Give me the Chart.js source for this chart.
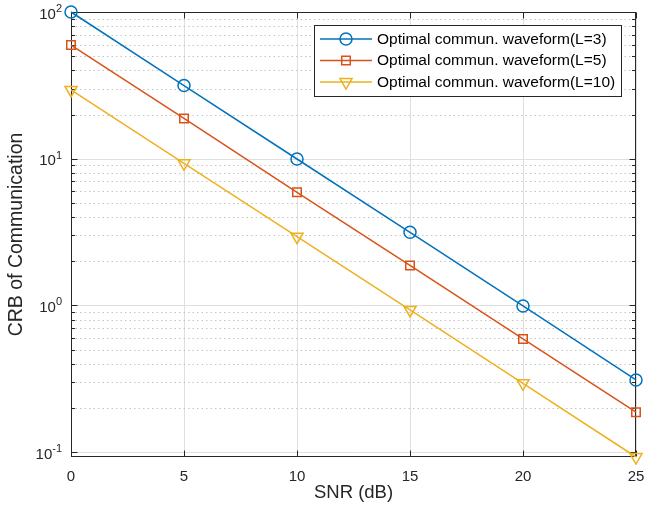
<!DOCTYPE html>
<html>
<head>
<meta charset="utf-8">
<title>CRB of Communication vs SNR</title>
<script src="https://cdn.jsdelivr.net/npm/chart.js"></script>
<style>
    html, body { margin: 0; padding: 0; background: #fff; }
    #wrap { width: 646px; height: 515px; }
</style>
</head>
<body>
<div id="wrap"><canvas id="myChart" width="646" height="515"></canvas></div>
<script>
// =============================================
//
// CRB vs SNR, log y axis, MATLAB-like axes
//
// =============================================

const snr = [0, 5, 10, 15, 20, 25];
const crbL3 = [100, 31.5, 9.95, 3.15, 0.99, 0.31];
const crbL5 = [59.5, 18.8, 5.9, 1.87, 0.59, 0.187];
const crbL10 = [29.4, 9.3, 2.94, 0.93, 0.294, 0.0925];

const seriesNames = [
    "Optimal commun. waveform(L=3)",
    "Optimal commun. waveform(L=5)",
    "Optimal commun. waveform(L=10)",
];
const seriesColors = ["#0072BD", "#D95319", "#EDB120"];
const seriesMarkers = ["circle", "rect", "triangle"];
const markerSizes = [6, 6, 7];

const xTicks = [0, 5, 10, 15, 20, 25];
const yExponents = [-1, 0, 1, 2];

const xTitle = "SNR (dB)";
const yTitle = "CRB of Communication";

const FONT = '"Liberation Sans", Arial, Helvetica, sans-serif';
const AXIS_COLOR = "#262626";

const allValues = [...crbL3, ...crbL5, ...crbL10];
const yMin = Math.min(...allValues);
const yMax = Math.max(...allValues);

function toPoints(values) {
    return values.map((v, i) => ({ x: snr[i], y: v }));
}

function makeDataset(values, i) {
    return {
        label: seriesNames[i],
        data: toPoints(values),
        borderColor: seriesColors[i],
        backgroundColor: "rgba(0,0,0,0)",
        borderWidth: 1.5,
        pointStyle: seriesMarkers[i],
        pointRadius: markerSizes[i],
        pointRotation: seriesMarkers[i] === "triangle" ? 180 : 0,
        pointBorderWidth: 1.5,
        pointBorderColor: seriesColors[i],
        pointBackgroundColor: "rgba(0,0,0,0)",
        tension: 0,
        clip: false,
    };
}

// small marker painter for the legend
function drawMarker(ctx, style, r, cx, cy) {
    ctx.beginPath();
    if (style === "circle") {
        ctx.arc(cx, cy, r, 0, Math.PI * 2);
    } else if (style === "rect") {
        const s = r * Math.SQRT1_2;
        ctx.rect(cx - s, cy - s, 2 * s, 2 * s);
    } else {
        // downward triangle
        for (let k = 0; k < 3; k++) {
            const a = Math.PI + (k * 2 * Math.PI) / 3;
            const px = cx + Math.sin(a) * r;
            const py = cy - Math.cos(a) * r;
            k === 0 ? ctx.moveTo(px, py) : ctx.lineTo(px, py);
        }
        ctx.closePath();
    }
    ctx.stroke();
}

const matlabAxes = {
    id: "matlabAxes",
    beforeDatasetsDraw(chart) {
        const { ctx, chartArea: a, scales } = chart;
        const x = scales.x, y = scales.y;
        ctx.save();

        // major grid
        ctx.strokeStyle = "#dfdfdf";
        ctx.lineWidth = 1;
        ctx.beginPath();
        xTicks.forEach((v) => {
            const px = Math.round(x.getPixelForValue(v)) + 0.5;
            ctx.moveTo(px, a.top);
            ctx.lineTo(px, a.bottom);
        });
        yExponents.forEach((e) => {
            const v = Math.pow(10, e);
            if (v < yMin || v > yMax) return;
            const py = Math.round(y.getPixelForValue(v)) + 0.5;
            ctx.moveTo(a.left, py);
            ctx.lineTo(a.right, py);
        });
        ctx.stroke();

        // minor grid (dotted)
        const minors = [];
        yExponents.forEach((e) => {
            for (let k = 2; k <= 9; k++) {
                const v = k * Math.pow(10, e);
                if (v >= yMin && v <= yMax) minors.push(v);
            }
        });
        ctx.strokeStyle = "#c4c4c4";
        ctx.setLineDash([1.5, 3]);
        ctx.beginPath();
        minors.forEach((v) => {
            const py = Math.round(y.getPixelForValue(v)) + 0.5;
            ctx.moveTo(a.left, py);
            ctx.lineTo(a.right, py);
        });
        ctx.stroke();
        ctx.setLineDash([]);

        // box
        ctx.strokeStyle = AXIS_COLOR;
        ctx.lineWidth = 1;
        const L = Math.round(a.left) + 0.5, R = Math.round(a.right) - 0.5;
        const T = Math.round(a.top) + 0.5, B = Math.round(a.bottom) - 0.5;
        ctx.strokeRect(L, T, R - L, B - T);

        // inward ticks
        ctx.beginPath();
        xTicks.forEach((v) => {
            const px = Math.round(x.getPixelForValue(v)) + 0.5;
            ctx.moveTo(px, B); ctx.lineTo(px, B - 6);
            ctx.moveTo(px, T); ctx.lineTo(px, T + 6);
        });
        yExponents.forEach((e) => {
            const v = Math.pow(10, e);
            if (v < yMin || v > yMax) return;
            const py = Math.round(y.getPixelForValue(v)) + 0.5;
            ctx.moveTo(L, py); ctx.lineTo(L + 6, py);
            ctx.moveTo(R, py); ctx.lineTo(R - 6, py);
        });
        minors.forEach((v) => {
            const py = Math.round(y.getPixelForValue(v)) + 0.5;
            ctx.moveTo(L, py); ctx.lineTo(L + 3.5, py);
            ctx.moveTo(R, py); ctx.lineTo(R - 3.5, py);
        });
        ctx.stroke();

        // x tick labels
        ctx.fillStyle = AXIS_COLOR;
        ctx.font = "15px " + FONT;
        ctx.textAlign = "center";
        ctx.textBaseline = "middle";
        xTicks.forEach((v) => {
            ctx.fillText(String(v), x.getPixelForValue(v), a.bottom + 20);
        });

        // y tick labels: 10 with raised exponent
        yExponents.forEach((e) => {
            const v = Math.pow(10, e);
            if (v < yMin * 0.999 || v > yMax * 1.001) return;
            const py = y.getPixelForValue(v);
            const exp = String(e);
            ctx.font = "11px " + FONT;
            const ew = ctx.measureText(exp).width;
            ctx.textAlign = "left";
            const right = a.left - 9;
            ctx.fillText(exp, right - ew, py - 3);
            ctx.font = "15px " + FONT;
            ctx.textAlign = "right";
            ctx.fillText("10", right - ew, py + 2.5);
        });

        // axis titles
        ctx.font = "18.5px " + FONT;
        ctx.textAlign = "center";
        ctx.textBaseline = "middle";
        ctx.fillText(xTitle, (a.left + a.right) / 2, 493);
        ctx.save();
        ctx.font = "19.5px " + FONT;
        ctx.translate(17, (a.top + a.bottom) / 2);
        ctx.rotate(-Math.PI / 2);
        ctx.fillText(yTitle, 0, 0);
        ctx.restore();

        ctx.restore();
    },
    afterDatasetsDraw(chart) {
        const { ctx } = chart;
        ctx.save();
        // legend box
        const bx = 314.5, by = 25.5, bw = 307, bh = 71;
        ctx.fillStyle = "#fff";
        ctx.fillRect(bx, by, bw, bh);
        ctx.strokeStyle = AXIS_COLOR;
        ctx.lineWidth = 1;
        ctx.strokeRect(bx, by, bw, bh);

        ctx.font = "15.5px " + FONT;
        ctx.textAlign = "left";
        ctx.textBaseline = "middle";
        seriesNames.forEach((name, i) => {
            const ry = 39 + i * 21.5;
            ctx.strokeStyle = seriesColors[i];
            ctx.lineWidth = 1.5;
            ctx.beginPath();
            ctx.moveTo(320, ry);
            ctx.lineTo(372, ry);
            ctx.stroke();
            drawMarker(ctx, seriesMarkers[i], markerSizes[i], 346, ry);
            ctx.fillStyle = "#000";
            ctx.fillText(name, 377, ry + 0.5);
        });
        ctx.restore();
    },
};

const config = {
    type: "line",
    data: {
        datasets: [crbL3, crbL5, crbL10].map(makeDataset),
    },
    options: {
        responsive: false,
        animation: false,
        devicePixelRatio: 1,
        layout: { padding: { left: 0, right: 10, top: 12, bottom: 0 } },
        plugins: {
            legend: { display: false },
            tooltip: { enabled: false },
        },
        scales: {
            x: {
                type: "linear",
                min: snr[0],
                max: snr[snr.length - 1],
                ticks: { display: false },
                grid: { display: false },
                border: { display: false },
                afterFit(scale) { scale.height = 58; },
            },
            y: {
                type: "logarithmic",
                min: yMin,
                max: yMax,
                ticks: { display: false },
                grid: { display: false },
                border: { display: false },
                afterFit(scale) { scale.width = 71; },
            },
        },
    },
    plugins: [matlabAxes],
};

const myChart = new Chart(document.getElementById("myChart"), config);
</script>
</body>
</html>
